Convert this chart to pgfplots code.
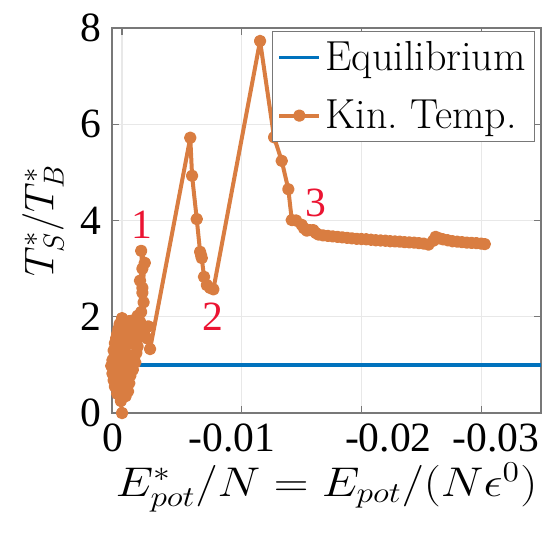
\documentclass[border=0pt]{standalone}
\usepackage{fontspec}
\usepackage{graphicx}
\usepackage{pgfplots}
\pgfplotsset{compat=1.18}
\newfontfamily\timesf{Liberation Serif}
\definecolor{mblue}{RGB}{0,114,189}
\definecolor{morange}{RGB}{217,125,65}
\definecolor{mred}{RGB}{235,20,50}
\definecolor{axgray}{RGB}{120,120,120}
\newcommand{\tl}[2]{\makebox[0pt]{\hspace*{#1}#2}}
\begin{document}
\begin{tikzpicture}[font=\fontsize{21}{25}\selectfont]
\useasboundingbox (-56pt,-62pt) rectangle (216.5pt,206.5pt);
\begin{axis}[
  at={(0,0)}, anchor=south west,
  scale only axis, width=214.5pt, height=192.5pt,
  x dir=reverse, xmin=-0.035, xmax=0.00084, ymin=0, ymax=8,
  clip=false,
  scaled x ticks=false,
  xtick={0,-0.01,-0.02,-0.03},
  xticklabels={\tl{-9pt}{0},\tl{-10pt}{-0.01},\tl{27pt}{-0.02},\tl{15pt}{-0.03}},
  ytick={0,2,4,6,8},
  /pgf/number format/assume math mode=true,
  xticklabel style={font=\timesf\fontsize{20.8}{24}\selectfont, yshift=-2pt},
  yticklabel style={font=\timesf\fontsize{20.8}{24}\selectfont, xshift=-2pt},
  grid=major,
  major grid style={gray!18, line width=0.6pt},
  axis line style={axgray, line width=0.6pt},
  tick style={axgray, line width=0.6pt},
  tick align=inside, major tick length=3.5pt,
  xlabel={\scalebox{1.16}[1]{$E^*_{pot}/N = E_{pot}/(N\epsilon^0)$}},
  ylabel={$T^*_S/T^*_B$},
  xlabel style={at={(axis description cs:0.5,0)}, anchor=base, yshift=-41.8pt},
  ylabel style={at={(axis description cs:-0.161,0.5)}, anchor=center},
  legend cell align=left,
  legend style={at={(1,1)}, anchor=north east, xshift=-3pt, yshift=-1.5pt,
    draw=axgray, line width=0.6pt, fill=white,
    font=\fontsize{21}{25}\selectfont, inner xsep=2.3pt, inner ysep=3pt,
    row sep=9pt},
  legend image code/.code={\draw[mark repeat=2,mark phase=2,#1] plot coordinates {(0pt,0pt) (10pt,0pt) (20pt,0pt)};},
]
\addplot[mblue, line width=1.7pt] coordinates {(0.0008,1) (-0.035,1)};
\addlegendentry{Equilibrium}
\addplot[morange, line width=2pt, line join=round, mark=*, mark size=2.1pt, mark options={solid}] coordinates {
(0.0000,0.00) (0.0001,0.25) (-0.0003,0.35) (0.0004,0.40) (-0.0004,0.50)
(0.0006,0.55) (-0.0006,0.62) (0.0007,0.68) (-0.0002,0.72) (-0.0007,0.78)
(0.0008,0.82) (0.0003,0.88) (-0.0009,0.90) (0.0009,0.98) (-0.0004,1.00)
(-0.0011,1.05) (0.0008,1.10) (-0.0010,1.15) (0.0006,1.20) (-0.0012,1.25)
(0.0007,1.30) (0.0000,1.33) (-0.0013,1.38) (0.0006,1.45) (-0.0012,1.50)
(0.0005,1.55) (-0.0013,1.60) (0.0004,1.65) (-0.0011,1.70) (0.0003,1.75)
(-0.0013,1.80) (0.0002,1.85) (-0.0010,1.90) (0.0000,1.97) (-0.0013,2.02)
(-0.0005,1.60) (0.0002,1.20) (-0.0008,0.95) (0.0004,0.70) (-0.0005,0.45)
(0.0002,0.60) (-0.0009,1.10) (0.0005,1.40) (-0.0007,1.75) (-0.0003,1.40)
(-0.0006,0.85) (0.0000,0.55) (0.0003,1.05) (-0.0002,1.25) (-0.0008,1.55)
(-0.0013,1.95) (-0.0016,2.10) (-0.0017,2.50) (-0.0015,2.75) (-0.0017,3.00)
(-0.0016,3.37) (-0.0019,3.12) (-0.0017,2.60) (-0.0018,2.30) (-0.0015,1.90)
(-0.0018,1.70) (-0.0022,1.80) (-0.0021,1.55) (-0.00234,1.33)
(-0.00570,5.72) (-0.00585,4.93) (-0.00624,4.03) (-0.00652,3.35) (-0.00660,3.28)
(-0.00666,3.22) (-0.00685,2.83) (-0.00708,2.66) (-0.00735,2.60) (-0.00763,2.57)
(-0.01153,7.73) (-0.01270,5.73) (-0.01334,5.24) (-0.01389,4.65) (-0.01418,4.01)
(-0.01454,4.00) (-0.01501,3.91) (-0.01520,3.84) (-0.01543,3.79) (-0.01570,3.80)
(-0.01598,3.80) (-0.01620,3.74)
(-0.0164,3.71) (-0.0168,3.69) (-0.0172,3.68) (-0.0176,3.67) (-0.0180,3.66)
(-0.0184,3.65) (-0.0188,3.64) (-0.0192,3.63) (-0.0196,3.62) (-0.0200,3.615)
(-0.0204,3.61) (-0.0208,3.60) (-0.0212,3.59) (-0.0216,3.585) (-0.0220,3.58)
(-0.0224,3.57) (-0.0228,3.565) (-0.0232,3.56) (-0.0236,3.55) (-0.0240,3.545)
(-0.0244,3.54) (-0.0248,3.53) (-0.0252,3.52) (-0.0256,3.50)
(-0.0260,3.58) (-0.0262,3.66) (-0.0265,3.63) (-0.0268,3.61) (-0.0272,3.59)
(-0.0276,3.57) (-0.0280,3.56) (-0.0284,3.55) (-0.0288,3.54) (-0.0292,3.535)
(-0.0296,3.53) (-0.0300,3.52) (-0.0303,3.51)
};
\addlegendentry{Kin.\ Temp.}
\node[mred, font=\timesf\fontsize{20.8}{24}\selectfont] at (axis cs:-0.00164,3.91) {1};
\node[mred, font=\timesf\fontsize{20.8}{24}\selectfont] at (axis cs:-0.00757,2.0) {2};
\node[mred, font=\timesf\fontsize{20.8}{24}\selectfont] at (axis cs:-0.0162,4.36) {3};
\end{axis}
\end{tikzpicture}
\end{document}
